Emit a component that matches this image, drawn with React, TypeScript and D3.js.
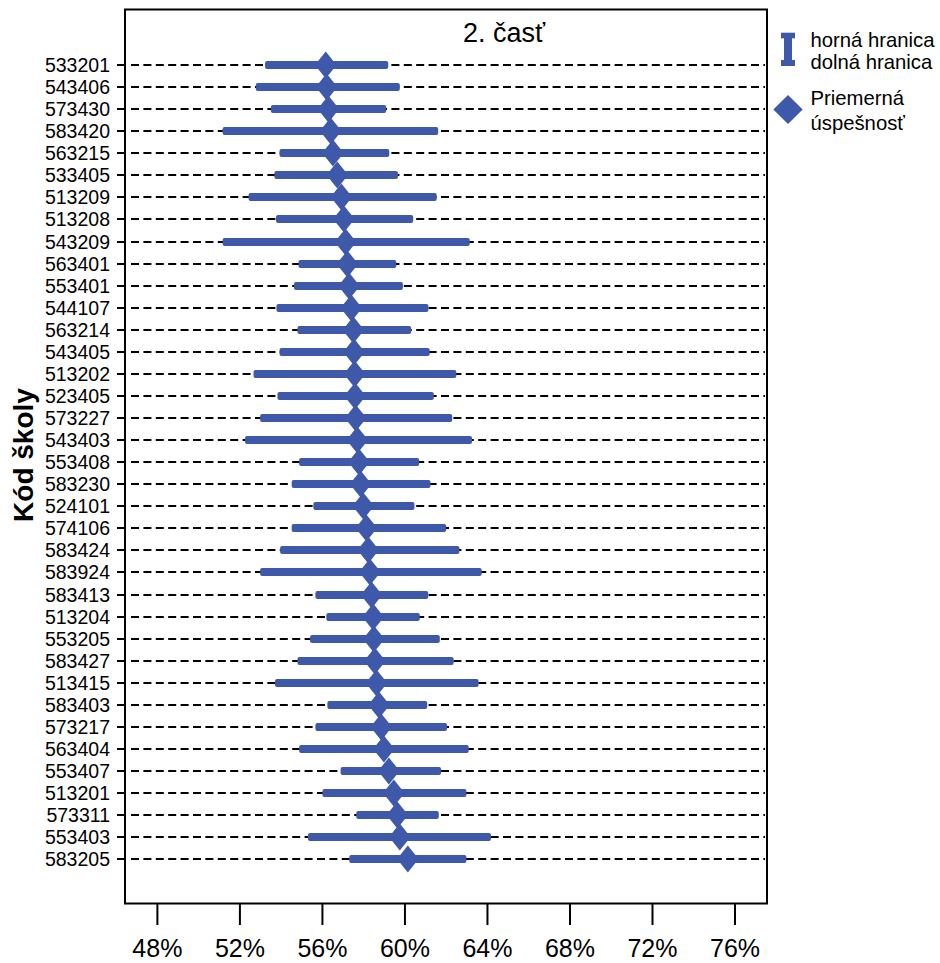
import React from "react";
import * as d3 from "d3";

const schoolCodes = [
  "533201", "543406", "573430", "583420", "563215", "533405", "513209", "513208", "543209",
  "563401", "553401", "544107", "563214", "543405", "513202", "523405", "573227", "543403",
  "553408", "583230", "524101", "574106", "583424", "583924", "583413", "513204", "553205",
  "583427", "513415", "583403", "573217", "563404", "553407", "513201", "573311", "553403", "583205",
];

const lowerBound = [
  53.22, 52.77, 53.5, 51.16, 53.92, 53.67, 52.42, 53.75, 51.16,
  54.84, 54.62, 53.77, 54.79, 53.92, 52.66, 53.82, 52.98, 52.25,
  54.87, 54.51, 55.56, 54.51, 53.95, 52.98, 55.66, 56.19, 55.4,
  54.79, 53.7, 56.24, 55.66, 54.87, 56.88, 56.0, 57.64, 55.3, 57.3,
];

const meanValue = [
  56.16, 56.2, 56.29, 56.4, 56.51, 56.72, 56.92, 57.04, 57.12,
  57.21, 57.29, 57.4, 57.5, 57.53, 57.56, 57.58, 57.61, 57.69,
  57.77, 57.85, 57.98, 58.13, 58.22, 58.3, 58.38, 58.46, 58.49,
  58.54, 58.62, 58.74, 58.85, 58.98, 59.22, 59.46, 59.63, 59.75, 60.14,
];

const upperBound = [
  59.19, 59.75, 59.09, 61.61, 59.24, 59.66, 61.54, 60.4, 63.14,
  59.58, 59.9, 61.14, 60.3, 61.2, 62.49, 61.4, 62.29, 63.25,
  60.69, 61.24, 60.46, 62.0, 62.64, 63.72, 61.13, 60.72, 61.69,
  62.36, 63.57, 61.08, 62.04, 63.09, 61.75, 62.98, 61.64, 64.17, 62.98,
];

const xTicks = [48, 52, 56, 60, 64, 68, 72, 76];

const title = "2. časť";
const yTitle = "Kód školy";
const legendRange = ["horná hranica", "dolná hranica"];
const legendMean = ["Priemerná", "úspešnosť"];

const BLUE = "#3e58aa";
const FONT = "'Liberation Sans', Arial, sans-serif";

export default function App() {
  const left = 125, right = 767, top = 9.5, bottom = 903.5;
  const x = d3.scaleLinear().domain([46.43, 77.55]).range([left, right]);
  const yp = d3.scalePoint<string>().domain(schoolCodes).range([65, 859.3]);
  const y = (c: string) => Math.round(yp(c)!);

  const dh = 13.5, dw = 10.8;
  const diamond = (cx: number, cy: number, hw: number, hh: number) =>
    `M${cx},${cy - hh}L${cx + hw},${cy}L${cx},${cy + hh}L${cx - hw},${cy}Z`;

  return (
    <svg width={940} height={963} style={{ position: "absolute", left: 0, top: 0, background: "#fff" }} fontFamily={FONT}>
      <rect x={0} y={0} width={940} height={963} fill="#fff" />
      {/* dashed row lines */}
      {schoolCodes.map((c) => (
        <line key={"d" + c} x1={left + 6} x2={right - 2} y1={y(c)} y2={y(c)}
          stroke="#000" strokeWidth={2} strokeDasharray="8,4.4" />
      ))}
      {/* bars */}
      {schoolCodes.map((c, i) => {
        const x0 = x(lowerBound[i]), x1 = x(upperBound[i]);
        return (
          <rect key={"b" + c} x={x0} y={y(c) - 4} width={x1 - x0} height={8} rx={2} fill={BLUE} />
        );
      })}
      {/* diamonds */}
      {schoolCodes.map((c, i) => (
        <path key={"m" + c} d={diamond(x(meanValue[i]), y(c), dw, dh)} fill={BLUE} />
      ))}
      {/* frame */}
      <rect x={left} y={top} width={right - left} height={bottom - top} fill="none" stroke="#000" strokeWidth={2} />
      {/* y ticks and labels */}
      {schoolCodes.map((c) => (
        <g key={"y" + c}>
          <line x1={117} x2={left} y1={y(c)} y2={y(c)} stroke="#000" strokeWidth={2} />
          <text x={110} y={y(c) + 7} textAnchor="end" fontSize={19.5} fill="#000">{c}</text>
        </g>
      ))}
      {/* x ticks */}
      {xTicks.map((t) => (
        <g key={"x" + t}>
          <line x1={x(t)} x2={x(t)} y1={bottom} y2={925} stroke="#000" strokeWidth={2} />
          <text x={x(t)} y={957} textAnchor="middle" fontSize={25} fill="#000">{t}%</text>
        </g>
      ))}
      {/* titles */}
      <text x={504} y={42.3} textAnchor="middle" fontSize={27} fill="#000">{title}</text>
      <text transform={`translate(33,455) rotate(-90)`} textAnchor="middle" fontSize={28} fontWeight="bold" fill="#000">{yTitle}</text>
      {/* legend */}
      <rect x={781} y={32.7} width={14} height={5.6} fill={BLUE} />
      <rect x={784} y={36} width={8} height={26} fill={BLUE} />
      <rect x={781} y={60} width={14} height={6} fill={BLUE} />
      <text x={810.5} y={46.7} fontSize={20.3} fill="#000">{legendRange[0]}</text>
      <text x={810.5} y={69.3} fontSize={20.3} fill="#000">{legendRange[1]}</text>
      <path d={diamond(788, 109.5, 14.7, 14.5)} fill={BLUE} />
      <text x={810.5} y={105} fontSize={20.3} fill="#000">{legendMean[0]}</text>
      <text x={810.5} y={130} fontSize={20.3} fill="#000">{legendMean[1]}</text>
    </svg>
  );
}
